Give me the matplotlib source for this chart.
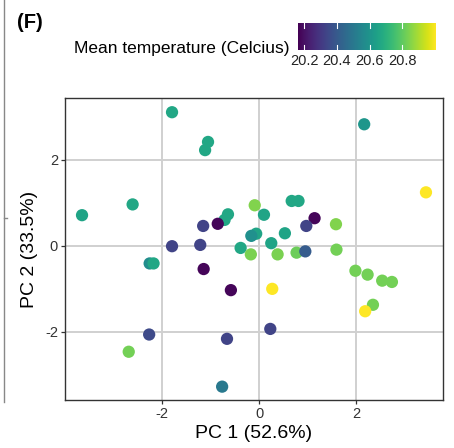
import matplotlib
matplotlib.use("Agg")
import matplotlib.pyplot as plt
from matplotlib.lines import Line2D
import numpy as np

plt.rcParams['font.family'] = ['Liberation Sans', 'DejaVu Sans']
plt.rcParams['axes.unicode_minus'] = False

# PCA scores, with mean temperature per sample
pc1 = [-1.79, -1.05, -1.11, -3.64, -2.60, 2.16, 3.43, -0.09, 0.10, -0.64,
       -0.71, -0.85, -1.15, 0.67, 0.81, 1.14, 0.97, 1.58, 0.53, -0.06,
       -0.16, 0.25, -0.38, -0.17, 0.38, 0.77, 0.95, 1.59, -1.79, -1.21,
       -1.14, -0.58, 0.27, -2.25, -2.17, -2.26, -2.68, -0.66, -0.76, 1.98,
       2.23, 2.53, 2.73, 2.34, 2.18, 0.23]
pc2 = [3.10, 2.41, 2.22, 0.71, 0.96, 2.82, 1.24, 0.94, 0.72, 0.73,
       0.60, 0.51, 0.46, 1.04, 1.04, 0.64, 0.46, 0.50, 0.29, 0.28,
       0.23, 0.06, -0.05, -0.20, -0.20, -0.16, -0.13, -0.09, -0.01, 0.02,
       -0.54, -1.03, -1.00, -0.41, -0.41, -2.06, -2.46, -2.16, -3.27, -0.58,
       -0.67, -0.81, -0.84, -1.37, -1.52, -1.93]
temp = [20.66, 20.66, 20.66, 20.65, 20.66, 20.60, 21.00, 20.84, 20.65, 20.66,
        20.66, 20.17, 20.33, 20.66, 20.66, 20.17, 20.33, 20.84, 20.65, 20.65,
        20.58, 20.65, 20.66, 20.83, 20.83, 20.81, 20.40, 20.82, 20.33, 20.33,
        20.17, 20.17, 21.00, 20.57, 20.66, 20.35, 20.82, 20.33, 20.50, 20.82,
        20.82, 20.82, 20.82, 20.82, 21.00, 20.33]

xticks = [-2, 0, 2]
yticks = [-2, 0, 2]
cbar_ticks = [20.2, 20.4, 20.6, 20.8]
tmin, tmax = 20.16, 21.0

fig = plt.figure(figsize=(4.54, 4.48), dpi=100)
ax = fig.add_axes([65 / 454, 1 - 400 / 448, 378 / 454, 302 / 448])

ax.scatter(pc1, pc2, c=temp, cmap='viridis', vmin=tmin, vmax=tmax,
           s=78, linewidths=0, zorder=3)

ax.set_xlim(-3.99, 3.78)
ax.set_ylim(-3.58, 3.43)
ax.set_xticks(xticks)
ax.set_yticks(yticks)
ax.grid(True, color='#d0d0d0', lw=1.4)
ax.set_axisbelow(True)
for sp in ax.spines.values():
    sp.set_color('#333333')
    sp.set_linewidth(1.0)
ax.tick_params(length=3, width=0.9, color='#333333', labelcolor='#333333',
               labelsize=10.5, pad=2)
ax.set_xlabel('PC 1 (52.6%)', fontsize=14, labelpad=3)
ax.set_ylabel('PC 2 (33.5%)', fontsize=14, labelpad=5)

# colour bar legend on top
cax = fig.add_axes([297.7 / 454, 1 - 50 / 448, 137.3 / 454, 27.3 / 448])
grad = np.linspace(tmin, tmax, 256).reshape(1, -1)
cax.imshow(grad, aspect='auto', cmap='viridis', extent=[tmin, tmax, 0, 1])
cax.set_xlim(tmin, tmax)
cax.set_ylim(0, 1)
for t in cbar_ticks:
    cax.plot([t, t], [0, 0.2], color='white', lw=0.8)
    cax.plot([t, t], [0.8, 1], color='white', lw=0.8)
cax.set_yticks([])
cax.set_xticks(cbar_ticks)
cax.set_xticklabels([str(t) for t in cbar_ticks])
cax.tick_params(axis='x', length=0, labelsize=10.5, labelcolor='#222222', pad=3)
for sp in cax.spines.values():
    sp.set_visible(False)

fig.text(74 / 454, 1 - 48 / 448, 'Mean temperature (Celcius)', fontsize=12.5,
         va='center', ha='left')
fig.text(17 / 454, 1 - 23 / 448, '(F)', fontsize=14.5, fontweight='bold',
         va='center', ha='left')

# edge of the neighbouring panel
fig.add_artist(Line2D([3.5 / 454, 3.5 / 454], [1, 1 - 402 / 448],
                      transform=fig.transFigure, color='#888888', lw=1.0))
fig.add_artist(Line2D([3.5 / 454, 7 / 454], [1 - 218 / 448, 1 - 218 / 448],
                      transform=fig.transFigure, color='#888888', lw=1.0))

fig.savefig('out.png', dpi=100)
